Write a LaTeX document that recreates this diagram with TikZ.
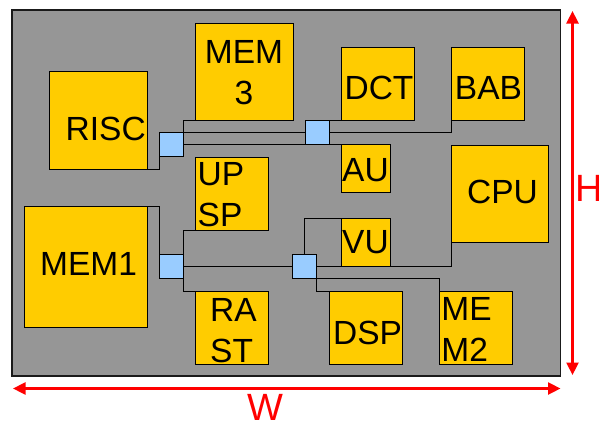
\documentclass[tikz,border=0pt]{standalone}
\usepackage{fontspec}
\setmainfont{Liberation Sans}
\usepackage{tikz}
\usetikzlibrary{arrows.meta}
\definecolor{gelb}{HTML}{FFCC00}
\definecolor{grau}{HTML}{969696}
\definecolor{hellblau}{HTML}{99CCFF}
\definecolor{rahmen}{HTML}{1A1A1A}

\begin{document}
\begin{tikzpicture}[x=1pt,y=-1pt]
\useasboundingbox (0,0) rectangle (599,423);

% 1. Koordinaten fuer Chip und Masspfeile
\coordinate (c1) at (12,10);
\coordinate (c2) at (560.5,376);
\coordinate (h1) at (572.5,11);
\coordinate (h2) at (572.5,375);
\coordinate (w1) at (13,388.5);
\coordinate (w2) at (560.5,388.5);

% 2. Stile definieren
\tikzset{
  block/.style={draw, fill=gelb, line width=1pt, inner sep=0pt, outer sep=0pt},
  blocktext/.style={font=\fontsize{33.5}{41}\selectfont, inner sep=0pt},
  switch/.style={draw, fill=hellblau, line width=1pt, minimum size=24, inner sep=0pt, outer sep=0pt},
  wire/.style={draw, line width=1pt},
  measure/.style={red, line width=2.5pt, {Triangle[length=12.5pt,width=12pt]}-{Triangle[length=12.5pt,width=12pt]}},
  measuretext/.style={text=red, font=\fontsize{38}{44}\selectfont, inner sep=0pt}
}

% 3. Chipflaeche
\draw [fill=grau, draw=rahmen, line width=1.5pt] (c1) rectangle (c2);

% 4. Bloecke
\node [block, minimum width=98, minimum height=98, label={[blocktext, name=risc-t, xshift=7.7pt, yshift=-9.2pt]center:RISC}] (risc) at (98,120) {};
\node [block, minimum width=98, minimum height=97, label={[blocktext, name=mem3-t, align=center, yshift=-1.5pt]center:{MEM\\3}}] (mem3) at (244,71.5) {};
\node [block, minimum width=73, minimum height=73, label={[blocktext, name=upsp-t, align=left, xshift=-10.5pt, yshift=-1.3pt]center:{UP\\SP}}] (upsp) at (231.5,193.5) {};
\node [block, minimum width=73, minimum height=73, label={[blocktext, name=dct-t, xshift=1.5pt, yshift=-4pt]center:DCT}] (dct) at (377.5,84) {};
\node [block, minimum width=73, minimum height=73, label={[blocktext, name=bab-t, xshift=1pt, yshift=-4pt]center:BAB}] (bab) at (487.5,83.5) {};
\node [block, minimum width=49, minimum height=48, label={[blocktext, name=au-t, yshift=-2pt]center:AU}] (au) at (365.5,168.5) {};
\node [block, minimum width=97, minimum height=97, label={[blocktext, name=cpu-t, xshift=3pt, yshift=2pt]center:CPU}] (cpu) at (499.5,193.5) {};
\node [block, minimum width=123, minimum height=121, label={[blocktext, name=mem1-t, xshift=3pt, yshift=2.5pt]center:MEM1}] (mem1) at (85.5,266.5) {};
\node [block, minimum width=73, minimum height=73, label={[blocktext, name=rast-t, align=left, xshift=2pt, yshift=-2.7pt]center:{RA\\ST}}] (rast) at (231.5,327.5) {};
\node [block, minimum width=49, minimum height=48.5, label={[blocktext, name=vu-t]center:VU}] (vu) at (365.5,242.25) {};
\node [block, minimum width=73, minimum height=73, label={[blocktext, name=dsp-t, xshift=2pt, yshift=-5.5pt]center:DSP}] (dsp) at (365.5,327.5) {};
\node [block, minimum width=73, minimum height=73, label={[blocktext, name=mem2-t, align=left, xshift=-9pt, yshift=-1.7pt]center:{ME\\M2}}] (mem2) at (475.5,327.5) {};

% 5. Schalter
\node [switch] (s1) at (171,144.5) {};
\node [switch] (s2) at (317,132.5) {};
\node [switch] (s3) at (171,266.5) {};
\node [switch] (s4) at (304.5,266.5) {};

% 6. Leitungen
\draw [wire] (risc.south east) -| (s1.south west);
\draw [wire] (mem3.south west) -| (s1.north east);
\draw [wire] (s1.north east) -- (s2.west);
\draw [wire] (s1.east) -- (s2.south west);
\draw [wire] (s2.north east) -- (dct.south west);
\draw [wire] (s2.east) -| (bab.south west);
\draw [wire] (s2.south east) -- (au.north west);
\draw [wire] (mem1.north east) -| (s3.north west);
\draw [wire] (upsp.south west) -| (s3.north east);
\draw [wire] (s3.south east) |- (rast.north west);
\draw [wire] (s3.east) -- (s4.west);
\draw [wire] (s4.north) |- (vu.north west);
\draw [wire] (s4.east) -| (cpu.south west);
\draw [wire] (s4.south east) |- (dsp.north west);
\draw [wire] (s4.south east) -| (mem2.north west);

% 7. Masspfeile
\draw [measure] (h1) -- (h2);
\draw [measure] (w1) -- (w2);
\node [measuretext, anchor=west] (hlabel) at (575,188.7) {H};
\node [measuretext] (wlabel) at (265.3,407) {W};

\end{tikzpicture}
\end{document}
